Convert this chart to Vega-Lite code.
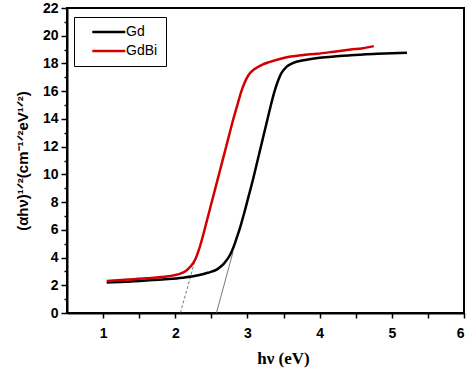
{
  "$schema": "https://vega.github.io/schema/vega-lite/v6.json",
  "width": 397,
  "height": 305,
  "autosize": {"type": "none"},
  "padding": {"left": 67, "top": 8, "right": 10, "bottom": 64},
  "background": "white",
  "config": {
    "view": {"stroke": "black", "strokeWidth": 2},
    "axis": {
      "domainColor": "black", "domainWidth": 2, "tickColor": "black", "tickWidth": 1.5,
      "labelFont": "Liberation Sans", "labelFontWeight": "bold", "labelFontSize": 14, "labelColor": "black",
      "titleColor": "black", "grid": false
    }
  },
  "datasets": {
    "curves": [
      {"sample": "Gd", "x": 1.05, "y": 2.2}, {"sample": "Gd", "x": 1.3, "y": 2.25}, {"sample": "Gd", "x": 1.6, "y": 2.35},
      {"sample": "Gd", "x": 1.9, "y": 2.45}, {"sample": "Gd", "x": 2.1, "y": 2.55}, {"sample": "Gd", "x": 2.3, "y": 2.7},
      {"sample": "Gd", "x": 2.45, "y": 2.9}, {"sample": "Gd", "x": 2.58, "y": 3.15}, {"sample": "Gd", "x": 2.68, "y": 3.6},
      {"sample": "Gd", "x": 2.76, "y": 4.2}, {"sample": "Gd", "x": 2.81, "y": 4.8}, {"sample": "Gd", "x": 2.85, "y": 5.4},
      {"sample": "Gd", "x": 2.9, "y": 6.2}, {"sample": "Gd", "x": 2.96, "y": 7.3}, {"sample": "Gd", "x": 3.02, "y": 8.5},
      {"sample": "Gd", "x": 3.08, "y": 9.7}, {"sample": "Gd", "x": 3.14, "y": 11.0}, {"sample": "Gd", "x": 3.2, "y": 12.3},
      {"sample": "Gd", "x": 3.26, "y": 13.6}, {"sample": "Gd", "x": 3.32, "y": 14.9}, {"sample": "Gd", "x": 3.37, "y": 15.9},
      {"sample": "Gd", "x": 3.42, "y": 16.7}, {"sample": "Gd", "x": 3.47, "y": 17.3}, {"sample": "Gd", "x": 3.54, "y": 17.75},
      {"sample": "Gd", "x": 3.62, "y": 18.0}, {"sample": "Gd", "x": 3.8, "y": 18.25}, {"sample": "Gd", "x": 3.97, "y": 18.4},
      {"sample": "Gd", "x": 4.2, "y": 18.5}, {"sample": "Gd", "x": 4.43, "y": 18.6}, {"sample": "Gd", "x": 4.8, "y": 18.7},
      {"sample": "Gd", "x": 5.21, "y": 18.78},
      {"sample": "GdBi", "x": 1.05, "y": 2.3}, {"sample": "GdBi", "x": 1.3, "y": 2.4}, {"sample": "GdBi", "x": 1.6, "y": 2.5},
      {"sample": "GdBi", "x": 1.9, "y": 2.65}, {"sample": "GdBi", "x": 2.05, "y": 2.8}, {"sample": "GdBi", "x": 2.15, "y": 3.05},
      {"sample": "GdBi", "x": 2.22, "y": 3.4}, {"sample": "GdBi", "x": 2.28, "y": 3.9}, {"sample": "GdBi", "x": 2.33, "y": 4.6},
      {"sample": "GdBi", "x": 2.38, "y": 5.5}, {"sample": "GdBi", "x": 2.44, "y": 6.7}, {"sample": "GdBi", "x": 2.5, "y": 7.9},
      {"sample": "GdBi", "x": 2.56, "y": 9.1}, {"sample": "GdBi", "x": 2.62, "y": 10.3}, {"sample": "GdBi", "x": 2.68, "y": 11.5},
      {"sample": "GdBi", "x": 2.74, "y": 12.7}, {"sample": "GdBi", "x": 2.8, "y": 13.9}, {"sample": "GdBi", "x": 2.86, "y": 15.0},
      {"sample": "GdBi", "x": 2.91, "y": 15.9}, {"sample": "GdBi", "x": 2.96, "y": 16.6}, {"sample": "GdBi", "x": 3.02, "y": 17.2},
      {"sample": "GdBi", "x": 3.1, "y": 17.6}, {"sample": "GdBi", "x": 3.2, "y": 17.9}, {"sample": "GdBi", "x": 3.3, "y": 18.1},
      {"sample": "GdBi", "x": 3.5, "y": 18.4}, {"sample": "GdBi", "x": 3.75, "y": 18.6}, {"sample": "GdBi", "x": 3.97, "y": 18.7},
      {"sample": "GdBi", "x": 4.2, "y": 18.85}, {"sample": "GdBi", "x": 4.43, "y": 19.0}, {"sample": "GdBi", "x": 4.6, "y": 19.1},
      {"sample": "GdBi", "x": 4.75, "y": 19.25}
    ],
    "tangentGd": [
      {"x": 2.57, "y": 0}, {"x": 2.8, "y": 4.4}
    ],
    "tangentGdBi": [
      {"x": 2.07, "y": 0}, {"x": 2.28, "y": 3.9}
    ]
  },
  "encoding": {
    "x": {
      "field": "x", "type": "quantitative",
      "scale": {"domain": [0.5, 6], "nice": false, "zero": false},
      "axis": {
        "values": [1, 1.5, 2, 2.5, 3, 3.5, 4, 4.5, 5, 5.5, 6],
        "labelExpr": "datum.value % 1 === 0 ? format(datum.value, 'd') : ''",
        "tickSize": 5, "labelPadding": 8,
        "title": "hν (eV)", "titleFont": "Liberation Serif", "titleFontWeight": "bold", "titleFontSize": 17,
        "titlePadding": 10, "titleX": 216
      }
    },
    "y": {
      "field": "y", "type": "quantitative",
      "scale": {"domain": [0, 22], "nice": false},
      "axis": {
        "values": [0,1,2,3,4,5,6,7,8,9,10,11,12,13,14,15,16,17,18,19,20,21,22],
        "labelExpr": "datum.value % 2 === 0 ? format(datum.value, 'd') : ''",
        "tickSize": {"condition": {"test": "datum.value % 2 === 0", "value": 6}, "value": 3},
        "labelPadding": 3,
        "title": "(αhν)¹ᐟ²(cm⁻¹ᐟ²eV¹ᐟ²)", "titleFont": "Liberation Sans", "titleFontWeight": "bold", "titleFontSize": 15,
        "titlePadding": 12
      }
    }
  },
  "layer": [
    {
      "data": {"name": "tangentGd"},
      "mark": {"type": "line", "strokeWidth": 0.8, "color": "#555"}
    },
    {
      "data": {"name": "tangentGdBi"},
      "mark": {"type": "line", "strokeWidth": 0.8, "color": "#555", "strokeDash": [3, 2]}
    },
    {
      "data": {"name": "curves"},
      "mark": {"type": "line", "strokeWidth": 2.5, "interpolate": "monotone"},
      "encoding": {
        "color": {
          "field": "sample", "type": "nominal",
          "scale": {"domain": ["Gd", "GdBi"], "range": ["black", "#d40000"]},
          "legend": {
            "title": null, "orient": "none", "legendX": 7, "legendY": 9,
            "symbolType": "M0.6,0H6.6", "symbolSize": 121, "symbolStrokeWidth": 2.5,
            "labelOffset": 30,
            "labelFont": "Liberation Sans", "labelFontSize": 14, "labelColor": "black",
            "strokeColor": "black", "fillColor": "white", "padding": 8, "rowPadding": 5
          }
        }
      }
    }
  ]
}
